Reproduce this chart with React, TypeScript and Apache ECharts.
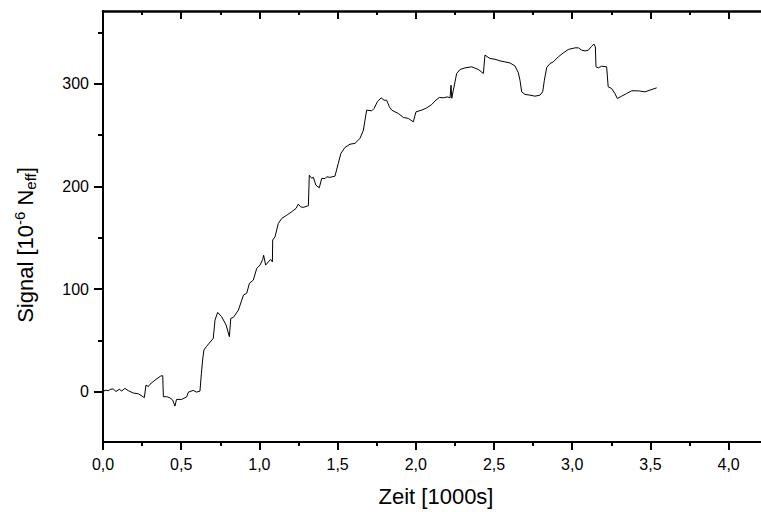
import React, { useEffect, useRef } from "react";
import * as echarts from "echarts";

const xVals = [
  0.0, 0.02, 0.033, 0.05, 0.066, 0.083, 0.104, 0.12, 0.14, 0.162, 0.194, 0.226, 0.256, 0.264, 0.275, 0.29, 0.3,
  0.333, 0.369, 0.382, 0.386, 0.407, 0.428, 0.445, 0.46, 0.47, 0.503, 0.535, 0.546, 0.577, 0.598, 0.62, 0.629,
  0.637, 0.645, 0.66, 0.705, 0.716, 0.733, 0.759, 0.787, 0.808, 0.817, 0.834, 0.866, 0.898, 0.919, 0.936, 0.961,
  0.983, 1.004, 1.021, 1.027, 1.04, 1.057, 1.072, 1.083, 1.085, 1.1, 1.121, 1.143, 1.175, 1.206, 1.234, 1.249,
  1.264, 1.28, 1.306, 1.313, 1.319, 1.334, 1.345, 1.361, 1.383, 1.398, 1.42, 1.43, 1.451, 1.483, 1.504, 1.521,
  1.547, 1.579, 1.611, 1.643, 1.665, 1.675, 1.686, 1.718, 1.733, 1.754, 1.778, 1.797, 1.814, 1.831, 1.846, 1.867,
  1.888, 1.92, 1.952, 1.984, 2.001, 2.038, 2.07, 2.102, 2.123, 2.15, 2.176, 2.201, 2.219, 2.225, 2.23, 2.24,
  2.261, 2.283, 2.315, 2.357, 2.4, 2.432, 2.442, 2.474, 2.506, 2.538, 2.57, 2.602, 2.634, 2.655, 2.666, 2.677,
  2.698, 2.73, 2.762, 2.794, 2.811, 2.822, 2.837, 2.858, 2.879, 2.911, 2.943, 2.975, 3.018, 3.039, 3.061, 3.082,
  3.103, 3.124, 3.139, 3.148, 3.152, 3.167, 3.188, 3.22, 3.23, 3.252, 3.273, 3.288, 3.316, 3.348, 3.38, 3.423,
  3.465, 3.497, 3.54,
];

const signalVals = [
  0.5, 1.5, 1.0, 2.5, 2.6, 0.2, 2.3, 0.7, 3.3, 1.0, -1.3, -2.0, -4.9, -5.8, 6.5, 5.0, 7.2,
  11.4, 15.3, 15.6, -4.9, -4.8, -6.0, -8.0, -14.0, -7.5, -7.5, -5.0, -0.4, 1.3, -0.4, 0.6, 17.9,
  30.9, 40.6, 43.8, 52.0, 69.8, 77.3, 73.0, 65.0, 53.6, 71.5, 72.5, 79.6, 94.2, 96.0, 105.6, 108.8,
  120.2, 123.4, 128.9, 133.0, 123.4, 126.5, 128.9, 126.5, 147.8, 151.0, 164.0, 168.9, 172.0, 175.3, 178.6, 182.8,
  180.2, 179.6, 180.9, 181.2, 211.0, 208.0, 209.0, 201.3, 198.7, 207.8, 207.8, 209.4, 208.9, 210.0, 222.4, 232.2,
  238.0, 241.2, 242.0, 246.8, 254.9, 264.6, 274.4, 273.7, 276.0, 282.5, 286.4, 284.1, 284.0, 277.6, 274.4, 272.7,
  271.2, 267.3, 266.3, 263.0, 272.7, 274.4, 276.6, 279.9, 283.4, 286.7, 286.4, 287.3, 286.4, 298.7, 286.0, 293.8,
  310.0, 314.0, 315.6, 316.6, 314.0, 310.1, 328.0, 324.7, 324.0, 322.4, 321.4, 320.4, 317.5, 311.0, 303.6, 292.2,
  289.7, 289.0, 288.0, 289.0, 292.2, 303.6, 316.0, 319.8, 321.4, 326.3, 330.2, 333.5, 335.1, 335.1, 332.8, 332.1,
  332.8, 336.7, 338.7, 336.0, 316.6, 315.6, 317.2, 316.6, 297.1, 295.5, 290.6, 285.8, 288.0, 290.6, 293.2, 293.2,
  292.2, 293.9, 296.1,
];

const xMajorTicks = [0, 0.5, 1.0, 1.5, 2.0, 2.5, 3.0, 3.5, 4.0];
const xMinorTicks = [0.25, 0.75, 1.25, 1.75, 2.25, 2.75, 3.25, 3.75];
const yMajorTicks = [0, 100, 200, 300];
const yMinorTicks = [50, 150, 250, 350];

const X_MIN = 0;
const X_MAX = 4.207;
const Y_MIN = -49;
const Y_MAX = 371;

const FONT = "'Liberation Sans', Arial, sans-serif";

export default function App() {
  const ref = useRef<HTMLDivElement>(null);

  useEffect(() => {
    if (!ref.current) return;
    const chart = echarts.init(ref.current, undefined, { renderer: "svg" });
    const data = xVals.map((x, i) => [x, signalVals[i]]);

    const baseX = {
      type: "value" as const,
      min: X_MIN,
      max: X_MAX,
      splitLine: { show: false },
    };
    const baseY = {
      type: "value" as const,
      min: Y_MIN,
      max: Y_MAX,
      splitLine: { show: false },
    };

    chart.setOption({
      animation: false,
      backgroundColor: "#ffffff",
      grid: { left: 103, right: 0, top: 11, bottom: 70, containLabel: false },
      xAxis: [
        {
          ...baseX,
          position: "bottom",
          axisLine: { show: true, onZero: false, lineStyle: { color: "#000", width: 2 } },
          axisTick: { show: true, customValues: xMajorTicks, length: 8, lineStyle: { color: "#000", width: 2 } },
          axisLabel: {
            show: true,
            customValues: xMajorTicks,
            formatter: (v: number) => v.toFixed(1).replace(".", ","),
            fontSize: 16,
            fontFamily: FONT,
            color: "#000",
            margin: 14,
          },
        },
        {
          ...baseX,
          position: "bottom",
          axisLine: { show: false, onZero: false },
          axisTick: { show: true, customValues: xMinorTicks, length: 4, lineStyle: { color: "#000", width: 2 } },
          axisLabel: { show: false },
        },
        {
          ...baseX,
          position: "top",
          axisLine: { show: true, onZero: false, lineStyle: { color: "#000", width: 2.5 } },
          axisTick: { show: true, inside: true, customValues: xMajorTicks, length: 8, lineStyle: { color: "#000", width: 2 } },
          axisLabel: { show: false },
        },
        {
          ...baseX,
          position: "top",
          axisLine: { show: false, onZero: false },
          axisTick: { show: true, inside: true, customValues: xMinorTicks, length: 4, lineStyle: { color: "#000", width: 2 } },
          axisLabel: { show: false },
        },
      ],
      yAxis: [
        {
          ...baseY,
          position: "left",
          axisLine: { show: true, onZero: false, lineStyle: { color: "#000", width: 2 } },
          axisTick: { show: true, customValues: yMajorTicks, length: 9, lineStyle: { color: "#000", width: 2 } },
          axisLabel: {
            show: true,
            customValues: yMajorTicks,
            fontSize: 16,
            fontFamily: FONT,
            color: "#000",
            margin: 14,
          },
        },
        {
          ...baseY,
          position: "left",
          axisLine: { show: false, onZero: false },
          axisTick: { show: true, customValues: yMinorTicks, length: 5, lineStyle: { color: "#000", width: 2 } },
          axisLabel: { show: false },
        },
      ],
      series: [
        {
          type: "line",
          xAxisIndex: 0,
          yAxisIndex: 0,
          data,
          showSymbol: false,
          symbol: "none",
          lineStyle: { color: "#000", width: 1 },
          itemStyle: { color: "#000" },
        },
      ],
      graphic: [
        {
          type: "text",
          x: 436,
          y: 496,
          style: {
            text: "Zeit [1000s]",
            align: "center",
            verticalAlign: "middle",
            fontSize: 22,
            fontFamily: FONT,
            fill: "#000",
          },
        },
        {
          type: "text",
          x: 25,
          y: 245,
          rotation: Math.PI / 2,
          style: {
            text: "{a|Signal [10}{s|-6}{a| N}{b|eff}{a|]}",
            align: "center",
            verticalAlign: "middle",
            fill: "#000",
            rich: {
              a: { fontSize: 22, fontFamily: FONT, lineHeight: 26, verticalAlign: "middle", fill: "#000" },
              s: { fontSize: 15, fontFamily: FONT, lineHeight: 16, verticalAlign: "top", fill: "#000" },
              b: { fontSize: 15, fontFamily: FONT, lineHeight: 16, verticalAlign: "bottom", fill: "#000" },
            },
          },
        },
      ],
    });

    return () => chart.dispose();
  }, []);

  return (
    <div
      ref={ref}
      style={{ position: "fixed", left: 0, top: 0, width: 761, height: 512, background: "#fff" }}
    />
  );
}
